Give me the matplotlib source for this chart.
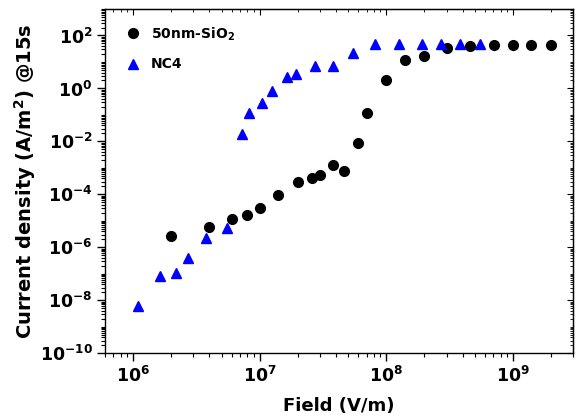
import matplotlib
matplotlib.use("Agg")
import matplotlib.pyplot as plt
from matplotlib.ticker import LogLocator, NullFormatter

plt.rcParams['font.family'] = ['DejaVu Sans']
plt.rcParams['font.weight'] = 'bold'
plt.rcParams['mathtext.fontset'] = 'custom'
plt.rcParams['mathtext.rm'] = 'DejaVu Sans:bold'
plt.rcParams['mathtext.it'] = 'DejaVu Sans:bold'
plt.rcParams['mathtext.bf'] = 'DejaVu Sans:bold'
plt.rcParams['mathtext.default'] = 'rm'

sio2_field = [2.0e6, 4.0e6, 6.0e6, 8.0e6, 1.0e7, 1.4e7, 2.0e7, 2.6e7, 3.0e7, 3.8e7,
              4.6e7, 6.0e7, 7.0e7, 1.0e8, 1.4e8, 2.0e8, 3.0e8, 4.6e8, 7.1e8, 1.0e9,
              1.4e9, 2.0e9]
sio2_j = [2.6e-6, 6.0e-6, 1.15e-5, 1.65e-5, 3.0e-5, 9.1e-5, 3.0e-4, 4.2e-4, 5.2e-4, 1.28e-3,
          7.8e-4, 8.7e-3, 0.117, 2.0, 11.7, 16.5, 34, 40, 43, 43,
          43, 43]

nc4_field = [1.09e6, 1.63e6, 2.2e6, 2.7e6, 3.8e6, 5.5e6, 7.2e6, 8.2e6, 1.04e7, 1.25e7,
             1.63e7, 1.92e7, 2.73e7, 3.8e7, 5.5e7, 8.2e7, 1.26e8, 1.9e8, 2.7e8, 3.8e8,
             5.5e8]
nc4_j = [6.0e-9, 8.3e-8, 1.05e-7, 4.0e-7, 2.2e-6, 5.5e-6, 0.0195, 0.117, 0.29, 0.77,
         2.7, 3.4, 6.8, 6.9, 21, 46, 46, 46, 46, 46,
         46]

fig = plt.figure(figsize=(5.77, 4.17), dpi=100)
ax = fig.add_axes([105/577, 1 - 353.3/417, (573.3 - 105)/577, (353.3 - 9)/417])

ax.plot(sio2_field, sio2_j, 'o', color='black', markersize=7, label='50nm-SiO$_2$', linestyle='none')
ax.plot(nc4_field, nc4_j, '^', color='blue', markersize=7, label='NC4', linestyle='none')

ax.set_xscale('log')
ax.set_yscale('log')
ax.set_xlim(6e5, 3e9)
ax.set_ylim(1e-10, 1e3)

ax.xaxis.set_major_locator(LogLocator(base=10, numticks=20))
ax.xaxis.set_minor_locator(LogLocator(base=10, subs=range(2, 10), numticks=20))
ax.xaxis.set_minor_formatter(NullFormatter())
ax.yaxis.set_major_locator(LogLocator(base=100, numticks=20))
ax.yaxis.set_minor_locator(LogLocator(base=10, subs=range(1, 10), numticks=30))
ax.yaxis.set_minor_formatter(NullFormatter())

ax.tick_params(which='major', direction='out', length=6, width=1, labelsize=12.5, top=False, right=False, pad=3)
ax.tick_params(which='minor', direction='out', length=3, width=0.8, top=False, right=False)
for s in ax.spines.values():
    s.set_linewidth(1.0)

# mirrored inward ticks on top and right
axt = ax.secondary_xaxis('top')
axt.tick_params(which='both', direction='in', labeltop=False)
axt.tick_params(which='major', length=4)
axt.tick_params(which='minor', length=2)
axt.xaxis.set_minor_formatter(NullFormatter())
axt.set_xticklabels([])
axr = ax.secondary_yaxis('right')
axr.tick_params(which='both', direction='in', labelright=False)
axr.tick_params(which='major', length=4)
axr.tick_params(which='minor', length=2)
axr.yaxis.set_major_locator(LogLocator(base=100, numticks=20))
axr.yaxis.set_minor_locator(LogLocator(base=10, subs=range(1, 10), numticks=30))
axr.yaxis.set_minor_formatter(NullFormatter())
axr.set_yticklabels([])

ax.set_xlabel('Field (V/m)', fontsize=13, fontweight='bold', labelpad=8)
ax.set_ylabel('Current density (A/m$^2$) @15s', fontsize=14, fontweight='bold', labelpad=1)

leg = ax.legend(loc='upper left', bbox_to_anchor=(0.0303, 0.969), frameon=False, fontsize=10,
                handletextpad=0.7, borderaxespad=0, labelspacing=1.07, handlelength=1.2)
for t in leg.get_texts():
    t.set_fontweight('bold')

fig.savefig('out.png', dpi=100)
